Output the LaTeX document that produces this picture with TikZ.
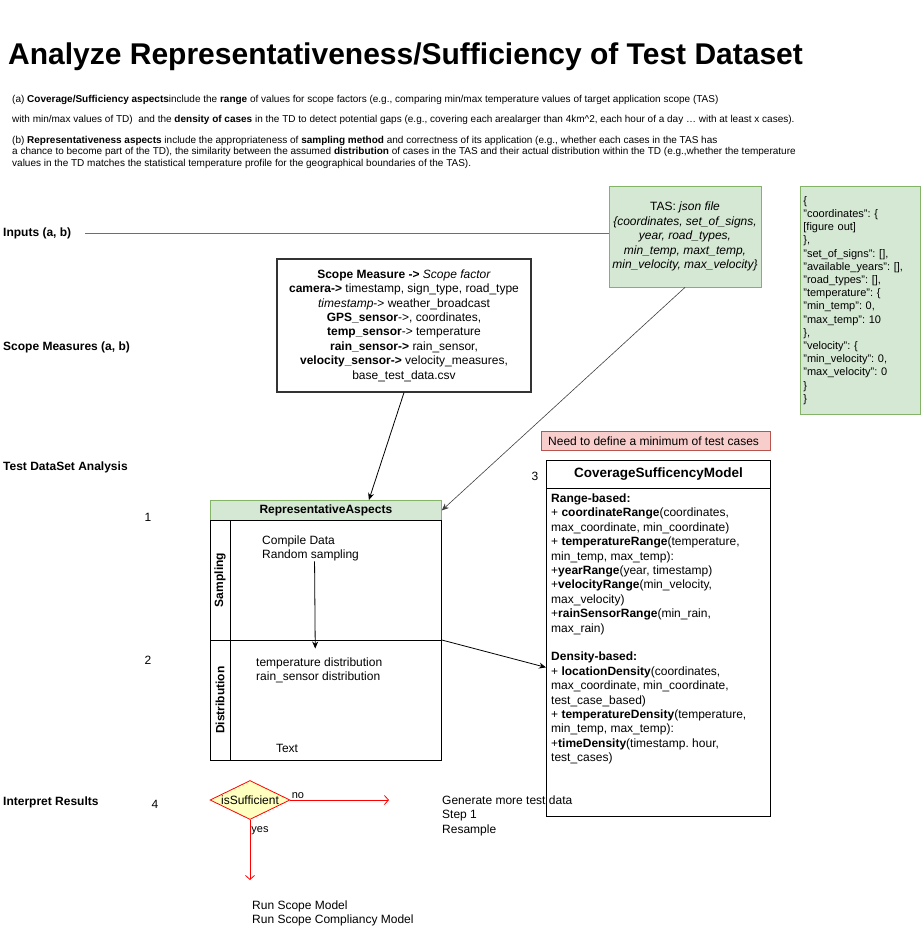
\documentclass[tikz,border=0pt]{standalone}
\usepackage{fontspec}
\setmainfont{Liberation Sans}
\frenchspacing
\usetikzlibrary{arrows.meta,positioning,calc,shapes.geometric}
\definecolor{GreenFill}{HTML}{D5E8D4}
\definecolor{GreenLine}{HTML}{82B366}
\definecolor{RedFill}{HTML}{F8CECC}
\definecolor{RedLine}{HTML}{B85450}
\definecolor{Decide}{HTML}{FFFFC0}
\definecolor{Flow}{HTML}{FF0000}
\definecolor{Rule}{HTML}{6E6E6E}
\newcommand{\setfs}[2]{\fontsize{#1}{#2}\selectfont}
\tikzset{
  lbl/.style={font=\setfs{12}{14.4}\bfseries,anchor=west,inner sep=0pt},
  txt/.style={font=\setfs{12}{14.4},align=left,inner sep=0pt},
  num/.style={font=\setfs{12}{14.4},inner sep=0pt},
  greenbox/.style={draw=GreenLine,fill=GreenFill,line width=0.8pt,inner sep=0pt},
  notebox/.style={draw=RedLine,fill=RedFill,line width=0.8pt,inner sep=0pt},
  plainbox/.style={draw=black!80,line width=1.2pt,inner sep=0pt},
  frame/.style={draw=black,line width=0.8pt,inner sep=0pt},
  decision/.style={diamond,aspect=2,draw=Flow,fill=Decide,line width=0.8pt,inner sep=0pt,font=\setfs{12}{14.4}},
  arr/.style={-{Stealth[length=7pt,width=6pt]},draw=black,line width=0.8pt},
  thinarr/.style={-{Stealth[length=7pt,width=6pt]},draw=black!75,line width=0.6pt},
  redarr/.style={-{Straight Barb[length=4pt,width=9pt]},draw=Flow,line width=0.8pt},
  edgelbl/.style={font=\setfs{11}{13},inner sep=1pt}
}
\begin{document}
\begin{tikzpicture}[x=1pt,y=-1pt]
  \useasboundingbox (0,0) rectangle (921,926);
  \node[anchor=base west,inner sep=0pt,font=\setfs{30}{36}\bfseries] (title) at (8,64) {Analyze Representativeness/Sufficiency of Test Dataset};
  \node[txt,font=\setfs{10}{11.5},anchor=north west] (intro) at (12,95) {(a) \textbf{Coverage/Sufficiency aspects}include the \textbf{range} of values for scope factors (e.g., comparing min/max temperature values of target application scope (TAS)\\[8.5pt]
    with min/max values of TD)\ \ and the \textbf{density of cases} in the TD to detect potential gaps (e.g., covering each arealarger than 4km\^{}2, each hour of a day … with at least x cases).\\[9.5pt]
    (b) \textbf{Representativeness aspects} include the appropriateness of \textbf{sampling method} and correctness of its application (e.g., whether each cases in the TAS has\\
    a chance to become part of the TD), the similarity between the assumed \textbf{distribution} of cases in the TAS and their actual distribution within the TD (e.g.,whether the temperature\\
    values in the TD matches the statistical temperature profile for the geographical boundaries of the TAS).};
  \node[lbl] (inputs) at (3,233) {Inputs (a, b)};
  \node[lbl] (scopeLbl) at (3,347) {Scope Measures (a, b)};
  \node[lbl] (analysisLbl) at (3,467) {Test DataSet Analysis};
  \node[lbl] (interpretLbl) at (3,802) {Interpret Results};
  \node[greenbox,minimum width=152pt,minimum height=101pt,align=center,font=\setfs{12}{14.4}\itshape] (tas) at (685,236.5) {\upshape TAS: \itshape json file\\\{coordinates, set\_of\_signs,\\year, road\_types,\\min\_temp, maxt\_temp,\\min\_velocity, max\_velocity\}};
  \node[greenbox,minimum width=120pt,minimum height=228pt,anchor=north west,align=left,text width=114pt,font=\setfs{11}{13.2}] (json) at (800,186) {\{\\
    "coordinates": \{\\
    {[}figure out]\\
    \},\\
    "set\_of\_signs": [],\\
    "available\_years": [],\\
    "road\_types": [],\\
    "temperature": \{\\
    "min\_temp": 0,\\
    "max\_temp": 10\\
    \},\\
    "velocity": \{\\
    "min\_velocity": 0,\\
    "max\_velocity": 0\\
    \}\\
    \}};
  \node[plainbox,minimum width=254pt,minimum height=133pt,align=center,font=\setfs{12}{14.4}] (scope) at (404,325.5) {\textbf{Scope Measure ->} \textit{Scope factor}\\
    \textbf{camera->} timestamp, sign\_type, road\_type\\
    \textit{timestamp}-> weather\_broadcast\\
    \textbf{GPS\_sensor}->, coordinates,\\
    \textbf{temp\_sensor}-> temperature\\
    \textbf{rain\_sensor->} rain\_sensor,\\
    \textbf{velocity\_sensor->} velocity\_measures,\\
    base\_test\_data.csv};
  \draw[draw=Rule,line width=0.9pt] ([xshift=14pt]inputs.east) -- (tas.west |- inputs.east);
  \node[frame,minimum width=231pt,minimum height=260pt] (rep) at (325.5,630) {};
  \node[greenbox,minimum width=231pt,minimum height=20pt,anchor=north west,font=\setfs{12}{14.4}\bfseries] (repHead) at (210,500) {RepresentativeAspects};
  \node[frame,rotate=90,minimum width=120pt,minimum height=20pt,font=\setfs{12}{14.4}\bfseries] (sampLbl) at (220,580) {Sampling};
  \node[frame,rotate=90,minimum width=120pt,minimum height=20pt,font=\setfs{12}{14.4}\bfseries] (distLbl) at (220,700) {Distribution};
  \node[frame,minimum width=211pt,minimum height=120pt,anchor=north west] (sampLane) at (230,520) {};
  \node[frame,minimum width=211pt,minimum height=120pt,anchor=north west] (distLane) at (230,640) {};
  \node[txt,anchor=north west] (sampText) at (262,535.5) {Compile Data\\Random sampling};
  \node[txt,anchor=north west] (distText) at (256,657.5) {temperature distribution\\rain\_sensor distribution};
  \node[num] (laneNote) at (287,748) {Text};
  \node[num] (n1) at (148,517) {1};
  \node[num] (n2) at (148,660) {2};
  \node[num] (n3) at (535,476) {3};
  \node[num] (n4) at (155,804) {4};
  \node[notebox,minimum width=229pt,minimum height=19pt,anchor=north west,label={[num,anchor=west,xshift=7pt]west:Need to define a minimum of test cases}] (note) at (541,431) {};
  \node[frame,minimum width=224pt,minimum height=28pt,anchor=north west,font=\setfs{13.5}{16}\bfseries] (cov) at (546,460) {CoverageSufficencyModel};
  \node[frame,minimum width=224pt,minimum height=328pt,anchor=north west] (covBox) at (546,488) {};
  \node[txt,anchor=north west] (covText) at (551,493.5) {\textbf{Range-based:}\\
    + \textbf{coordinateRange}(coordinates,\\
    max\_coordinate, min\_coordinate)\\
    + \textbf{temperatureRange}(temperature,\\
    min\_temp, max\_temp):\\
    +\textbf{yearRange}(year, timestamp)\\
    +\textbf{velocityRange}(min\_velocity,\\
    max\_velocity)\\
    +\textbf{rainSensorRange}(min\_rain,\\
    max\_rain)\\[14.4pt]
    \textbf{Density-based:}\\
    + \textbf{locationDensity}(coordinates,\\
    max\_coordinate, min\_coordinate,\\
    test\_case\_based)\\
    + \textbf{temperatureDensity}(temperature,\\
    min\_temp, max\_temp):\\
    +\textbf{timeDensity}(timestamp. hour,\\
    test\_cases)};
  \draw[arr] (scope.south) -- ([xshift=43pt]repHead.north);
  \draw[thinarr] (tas.south) -- (repHead.east);
  \draw[arr] ([xshift=4pt]sampText.south) -- ([xshift=-4pt,yshift=9pt]distText.north);
  \draw[arr] (distLane.north east) -- ([yshift=-15pt]covBox.west);
  \node[decision,minimum width=80pt,minimum height=39pt] (suff) at (250,800) {isSufficient};
  \coordinate (noEnd) at (389,800);
  \coordinate (yesEnd) at (250,880);
  \draw[redarr] (suff.east) -- node[edgelbl,pos=0,anchor=south west] {no} (noEnd);
  \draw[redarr] (suff.south) -- node[edgelbl,pos=0,anchor=north west,yshift=-5pt] {yes} (yesEnd);
  \node[txt,anchor=north west] (retry) at (442,795.5) {Generate more test data\\Step 1\\Resample};
  \node[txt,anchor=north west] (runNext) at (252,900.5) {Run Scope Model\\Run Scope Compliancy Model};
\end{tikzpicture}
\end{document}
